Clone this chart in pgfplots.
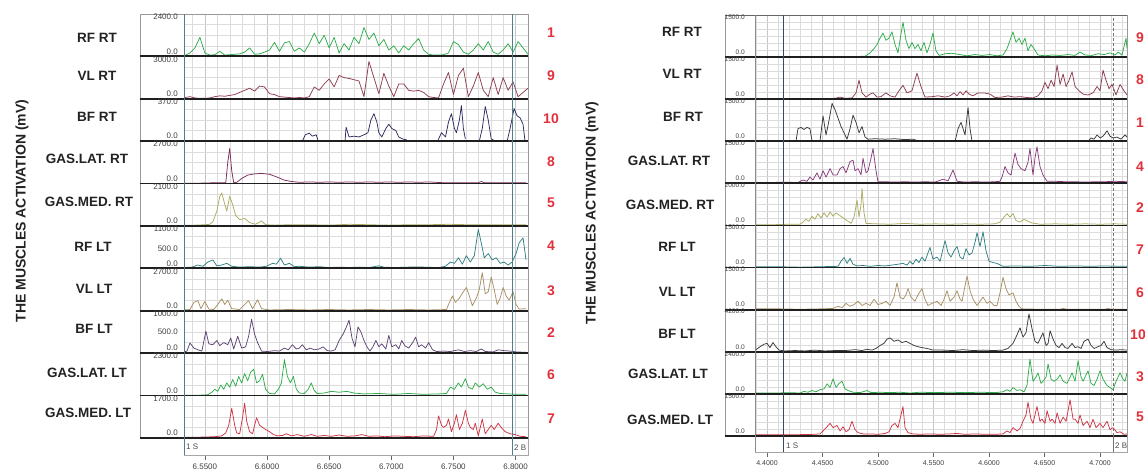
\documentclass[border=0pt]{standalone}
\usepackage{fontspec}
\setmainfont{Liberation Sans}
\usepackage{pgfplots}
\pgfplotsset{compat=1.18}

\definecolor{gridmin}{HTML}{DCDCDC}
\definecolor{gridmaj}{HTML}{C6C6C6}
\definecolor{cGreen}{HTML}{2EAD4B}
\definecolor{cMaroon}{HTML}{8E3C4E}
\definecolor{cNavy}{HTML}{2C2C5E}
\definecolor{cPlum}{HTML}{7C2C5C}
\definecolor{cOlive}{HTML}{ABAB62}
\definecolor{cTeal}{HTML}{2F7F82}
\definecolor{cTan}{HTML}{A88F62}
\definecolor{cPurple}{HTML}{5E4474}
\definecolor{cRed}{HTML}{D03444}
\definecolor{cGray}{HTML}{38383F}
\definecolor{cMag}{HTML}{8A3A7E}
\definecolor{cNum}{HTML}{E2303A}
\definecolor{cLabel}{HTML}{222222}
\definecolor{cMark}{HTML}{4F7F8C}
\definecolor{cSlate}{HTML}{3C4A5C}

\pgfplotsset{
  emg/.style={scale only axis, anchor=south west, ymin=0,
    axis line style={draw=none}, tick style={draw=none},
    major tick length=0pt, minor tick length=0pt,
    xticklabels={}, yticklabels={},
    xmajorgrids, xminorgrids, yminorgrids,
    major grid style={draw=gridmaj, line width=0.5pt},
    minor grid style={draw=gridmin, line width=0.45pt},
    unbounded coords=jump,
    every axis plot/.append style={line width=0.75pt, line join=round, mark=none}},
  lrow/.style={emg, width=344pt, height=42.4pt, xmin=6.5332, xmax=6.8100,
    xtick distance=0.05, minor xtick={6.54,6.55,...,6.81},
    ymax=#1, ytick={0,#1}, minor y tick num=3},
  rrow/.style={emg, width=372pt, height=42.1pt, xmin=4.3892, xmax=4.7243,
    xtick distance=0.05, minor xtick={4.39,4.40,...,4.72},
    ymax=#1, ytick={0,#1}, minor y tick num=5},
  strip/.style={scale only axis, anchor=south west, ymin=0, ymax=1, ytick=\empty,
    xtick distance=0.05, xtick pos=bottom, xtick align=outside,
    major tick length=5pt, tick style={draw=black!60, line width=0.5pt},
    axis line style={draw=black!35, line width=0.5pt},
    xticklabel style={font=\fontsize{8}{9}\selectfont, text=black!75},
    /pgf/number format/fixed, /pgf/number format/fixed zerofill,
    /pgf/number format/precision=4, /pgf/number format/assume math mode=true},
}

\begin{document}
\begin{tikzpicture}[x=1pt,y=1pt,
  rowlab/.style={font=\fontsize{13.5}{15}\selectfont\bfseries, text=cLabel, inner sep=0pt},
  rednum/.style={font=\fontsize{14}{16}\selectfont\bfseries, text=cNum, inner sep=0pt},
  ltick/.style={font=\fontsize{8}{9}\selectfont, text=black!75, inner sep=0pt, anchor=east},
  rtick/.style={font=\fontsize{6.6}{7}\selectfont, text=black!75, inner sep=0pt, anchor=east},
  mk/.style={font=\fontsize{8}{9}\selectfont, text=black!70, inner sep=0pt, anchor=west}]
\useasboundingbox (0,0) rectangle (1145,473);

% ================= left panel =================
\begin{axis}[lrow=2400, at={(184pt,416.6pt)}]
\addplot[cGreen] coordinates {(6.534,48)(6.538,192)(6.542,480)(6.546,1080)(6.550,192)(6.554,72)(6.558,96)(6.562,288)(6.566,72)(6.570,96)(6.574,120)(6.578,144)(6.582,240)(6.586,480)(6.590,120)(6.594,144)(6.598,240)(6.602,360)(6.606,792)(6.610,288)(6.614,768)(6.618,840)(6.622,288)(6.626,480)(6.630,240)(6.634,720)(6.638,1320)(6.642,720)(6.646,1200)(6.650,480)(6.654,1080)(6.658,192)(6.662,720)(6.666,360)(6.670,1080)(6.674,720)(6.678,1632)(6.682,960)(6.686,1320)(6.690,600)(6.694,960)(6.698,360)(6.702,600)(6.706,192)(6.710,600)(6.714,360)(6.718,720)(6.722,1008)(6.726,360)(6.730,120)(6.734,72)(6.738,72)(6.742,96)(6.746,192)(6.750,840)(6.754,672)(6.758,240)(6.762,120)(6.766,360)(6.770,720)(6.774,360)(6.778,840)(6.782,240)(6.786,120)(6.790,360)(6.794,720)(6.798,240)(6.802,840)(6.806,480)(6.810,120)};
\end{axis}
\begin{axis}[lrow=3000, at={(184pt,374.2pt)}]
\addplot[cMaroon] coordinates {(6.534,90)(6.538,150)(6.542,60)(6.546,30)(6.550,30)(6.554,60)(6.558,150)(6.562,210)(6.566,180)(6.570,240)(6.574,300)(6.578,450)(6.582,600)(6.586,750)(6.590,540)(6.594,900)(6.598,840)(6.602,360)(6.606,300)(6.610,150)(6.614,120)(6.618,90)(6.622,60)(6.626,90)(6.630,60)(6.634,150)(6.638,840)(6.642,600)(6.646,1050)(6.650,1410)(6.654,840)(6.658,1650)(6.662,1500)(6.666,1440)(6.670,1350)(6.674,1260)(6.678,150)(6.682,2640)(6.686,1500)(6.690,360)(6.694,1800)(6.698,900)(6.702,150)(6.706,1050)(6.710,1050)(6.714,600)(6.718,540)(6.722,600)(6.726,450)(6.730,150)(6.734,90)(6.738,60)(6.742,1050)(6.746,1860)(6.750,300)(6.754,1650)(6.758,2160)(6.762,150)(6.766,900)(6.770,1860)(6.774,600)(6.778,150)(6.782,1500)(6.786,300)(6.790,1500)(6.794,600)(6.798,1200)(6.802,150)(6.806,450)(6.810,750)};
\end{axis}
\begin{axis}[lrow=370, at={(184pt,331.8pt)}]
\addplot[cNavy] coordinates {(6.6284,0)(6.6308,56)(6.6340,70)(6.6364,44)(6.6396,56)(6.6412,0)(6.650,nan)(6.6628,0)(6.6636,122)(6.6660,37)(6.6700,44)(6.6740,37)(6.6780,56)(6.6812,74)(6.6836,185)(6.6860,240)(6.6884,167)(6.6900,74)(6.6924,37)(6.6956,111)(6.6980,148)(6.7004,111)(6.7036,93)(6.7060,37)(6.7092,19)(6.7124,11)(6.720,nan)(6.7372,0)(6.7404,74)(6.7436,37)(6.7460,167)(6.7484,240)(6.7508,111)(6.7524,74)(6.7548,185)(6.7564,311)(6.7580,111)(6.7596,19)(6.765,nan)(6.7708,0)(6.7732,111)(6.7756,303)(6.7780,185)(6.7804,19)(6.7828,7)(6.788,nan)(6.7932,0)(6.7956,111)(6.7988,285)(6.8012,222)(6.8036,204)(6.8060,148)(6.8076,0)};
\end{axis}
\begin{axis}[lrow=2700, at={(184pt,289.4pt)}]
\addplot[cPlum] coordinates {(6.5332,27)(6.5460,27)(6.5580,54)(6.5668,54)(6.5684,1350)(6.5700,2241)(6.5716,810)(6.5732,54)(6.5756,81)(6.5796,324)(6.5844,540)(6.5900,621)(6.5956,648)(6.6020,594)(6.6084,405)(6.6140,216)(6.6196,135)(6.6260,81)(6.6340,108)(6.6420,81)(6.6500,108)(6.6580,81)(6.6660,108)(6.6740,81)(6.6820,108)(6.6900,81)(6.6980,108)(6.7060,81)(6.7140,108)(6.7220,81)(6.7300,108)(6.7420,54)(6.7540,54)(6.7700,54)(6.7724,135)(6.7748,54)(6.7860,54)(6.7980,54)(6.8084,54)};
\end{axis}
\begin{axis}[lrow=2100, at={(184pt,247pt)}]
\addplot[cOlive] coordinates {(6.5332,42)(6.5420,42)(6.5500,63)(6.5540,84)(6.5564,210)(6.5596,735)(6.5620,1470)(6.5636,1638)(6.5652,1260)(6.5676,735)(6.5700,1470)(6.5724,1050)(6.5748,525)(6.5780,315)(6.5820,378)(6.5860,168)(6.5908,84)(6.5956,252)(6.5988,63)(6.6060,42)(6.6180,63)(6.6340,63)(6.6500,42)(6.6660,84)(6.6820,63)(6.6980,42)(6.7140,63)(6.7300,63)(6.7460,84)(6.7620,63)(6.7780,63)(6.7940,63)(6.8084,63)};
\end{axis}
\begin{axis}[lrow=1100, at={(184pt,204.6pt)}]
\addplot[cTeal] coordinates {(6.5332,22)(6.5396,33)(6.5444,88)(6.5484,55)(6.5524,165)(6.5564,220)(6.5596,66)(6.5636,88)(6.5676,132)(6.5716,55)(6.5780,33)(6.5860,44)(6.5940,33)(6.5996,55)(6.6044,132)(6.6076,110)(6.6108,264)(6.6140,88)(6.6180,132)(6.6220,44)(6.6260,55)(6.6340,33)(6.6420,44)(6.6500,22)(6.6580,33)(6.6660,22)(6.6740,33)(6.6820,22)(6.6900,66)(6.6940,33)(6.7020,22)(6.7140,33)(6.7260,33)(6.7380,22)(6.7436,55)(6.7476,165)(6.7508,132)(6.7540,275)(6.7572,110)(6.7604,330)(6.7636,165)(6.7668,330)(6.7700,1012)(6.7724,660)(6.7748,275)(6.7780,385)(6.7812,220)(6.7844,275)(6.7876,132)(6.7908,165)(6.7940,88)(6.7972,165)(6.8004,385)(6.8028,660)(6.8060,792)(6.8084,220)};
\end{axis}
\begin{axis}[lrow=2700, at={(184pt,162.2pt)}]
\addplot[cTan] coordinates {(6.5332,54)(6.5380,81)(6.5412,540)(6.5444,648)(6.5468,135)(6.5500,594)(6.5532,108)(6.5572,81)(6.5604,405)(6.5636,756)(6.5660,405)(6.5684,675)(6.5716,135)(6.5780,81)(6.5820,405)(6.5852,648)(6.5884,135)(6.5924,702)(6.5956,135)(6.6020,54)(6.6180,81)(6.6340,54)(6.6500,81)(6.6660,54)(6.6820,81)(6.6980,54)(6.7140,81)(6.7300,54)(6.7444,81)(6.7468,540)(6.7492,945)(6.7516,540)(6.7548,810)(6.7580,1215)(6.7604,1485)(6.7628,945)(6.7652,324)(6.7684,810)(6.7708,1350)(6.7732,2430)(6.7756,1080)(6.7780,1215)(6.7804,2160)(6.7828,1350)(6.7852,405)(6.7876,810)(6.7900,1485)(6.7924,945)(6.7948,675)(6.7980,1215)(6.8004,405)(6.8028,108)(6.8084,135)};
\end{axis}
\begin{axis}[lrow=1000, at={(184pt,119.8pt)}]
\addplot[cPurple] coordinates {(6.5332,30)(6.5356,50)(6.5380,240)(6.5412,120)(6.5444,80)(6.5476,50)(6.5508,520)(6.5532,220)(6.5564,200)(6.5596,300)(6.5620,180)(6.5652,250)(6.5684,200)(6.5708,360)(6.5732,100)(6.5764,400)(6.5796,120)(6.5828,150)(6.5852,400)(6.5876,800)(6.5900,450)(6.5924,250)(6.5956,50)(6.6004,40)(6.6060,60)(6.6100,50)(6.6140,120)(6.6172,80)(6.6204,200)(6.6236,100)(6.6260,120)(6.6284,200)(6.6316,80)(6.6348,120)(6.6380,80)(6.6420,100)(6.6452,150)(6.6484,60)(6.6516,50)(6.6548,80)(6.6580,300)(6.6612,450)(6.6636,600)(6.6660,780)(6.6684,350)(6.6708,150)(6.6732,620)(6.6756,500)(6.6780,300)(6.6804,150)(6.6828,50)(6.6852,150)(6.6876,300)(6.6900,150)(6.6924,220)(6.6956,100)(6.6980,420)(6.7004,150)(6.7036,200)(6.7060,100)(6.7084,300)(6.7108,180)(6.7140,120)(6.7172,250)(6.7196,380)(6.7220,150)(6.7244,200)(6.7276,120)(6.7300,250)(6.7332,80)(6.7364,40)(6.7420,50)(6.7476,40)(6.7540,80)(6.7588,40)(6.7636,60)(6.7684,40)(6.7724,100)(6.7756,40)(6.7820,30)(6.7860,80)(6.7908,60)(6.7956,50)(6.8004,30)(6.8084,20)};
\end{axis}
\begin{axis}[lrow=2300, at={(184pt,77.4pt)}]
\addplot[cGreen] coordinates {(6.5332,23)(6.5460,23)(6.5524,46)(6.5556,184)(6.5580,345)(6.5604,230)(6.5628,575)(6.5652,345)(6.5676,690)(6.5700,460)(6.5724,874)(6.5748,506)(6.5772,1035)(6.5796,690)(6.5820,1196)(6.5844,805)(6.5868,1265)(6.5892,1426)(6.5916,690)(6.5940,805)(6.5964,1150)(6.5988,345)(6.6020,115)(6.6060,92)(6.6092,345)(6.6116,690)(6.6140,1955)(6.6164,1035)(6.6188,690)(6.6212,1035)(6.6236,345)(6.6260,138)(6.6300,115)(6.6332,345)(6.6356,690)(6.6380,276)(6.6404,115)(6.6460,138)(6.6516,230)(6.6580,184)(6.6644,230)(6.6700,138)(6.6780,92)(6.6900,115)(6.7020,69)(6.7140,115)(6.7260,69)(6.7380,92)(6.7444,115)(6.7476,460)(6.7508,345)(6.7540,690)(6.7564,460)(6.7596,920)(6.7620,460)(6.7652,345)(6.7676,690)(6.7708,460)(6.7740,644)(6.7772,345)(6.7804,460)(6.7836,184)(6.7876,115)(6.7940,92)(6.8020,69)(6.8084,69)};
\end{axis}
\begin{axis}[lrow=1700, at={(184pt,35pt)}]
\addplot[cRed] coordinates {(6.5332,34)(6.5460,34)(6.5580,51)(6.5636,85)(6.5668,204)(6.5692,510)(6.5716,1190)(6.5740,510)(6.5756,204)(6.5780,170)(6.5804,850)(6.5820,1394)(6.5836,680)(6.5860,255)(6.5884,170)(6.5900,510)(6.5916,816)(6.5940,510)(6.5964,425)(6.5988,340)(6.6020,255)(6.6052,136)(6.6084,85)(6.6124,102)(6.6156,170)(6.6196,85)(6.6244,136)(6.6300,68)(6.6356,136)(6.6404,68)(6.6460,102)(6.6516,68)(6.6580,119)(6.6644,68)(6.6708,85)(6.6764,136)(6.6820,68)(6.6884,85)(6.6948,51)(6.7020,85)(6.7100,68)(6.7180,51)(6.7260,85)(6.7340,68)(6.7364,340)(6.7380,884)(6.7404,510)(6.7420,425)(6.7444,510)(6.7460,765)(6.7484,255)(6.7508,595)(6.7524,935)(6.7548,340)(6.7572,595)(6.7596,1105)(6.7620,595)(6.7636,425)(6.7660,340)(6.7676,595)(6.7700,85)(6.7716,425)(6.7732,765)(6.7756,170)(6.7780,340)(6.7804,510)(6.7828,340)(6.7860,595)(6.7884,425)(6.7916,255)(6.7956,170)(6.7996,136)(6.8036,68)(6.8084,51)};
\end{axis}
\begin{axis}[strip, width=344pt, height=17pt, at={(184pt,18pt)}, xmin=6.5332, xmax=6.8100]
\addplot[draw=none] coordinates {(6.6,0.5)};
\end{axis}

% left frame, baselines, markers
\draw[black!40, line width=0.6pt] (140,35) rectangle (528,459);
\foreach \y in {416.6,374.2,331.8,289.4,247,204.6,162.2,119.8,77.4,35}
  \draw[line width=1.8pt, draw=black!88] (140,\y) -- (528,\y);
\draw[cMark, line width=0.8pt] (184,18) -- (184,459);
\draw[cMark, line width=0.8pt] (512,18) -- (512,459);
\node[mk] at (186,26) {1 S};
\node[mk] at (514,25) {2 B};
\foreach \y/\t in {456/2400.0, 421.6/0.0, 413.6/3000.0, 379.2/0.0, 371.2/370.0, 336.8/0.0, 328.8/2700.0, 294.4/0.0, 286.4/2100.0, 252/0.0, 244/1100.0, 223.9/500.0, 209.6/0.0, 201.6/2700.0, 167.2/0.0, 159.2/1000.0, 141/500.0, 124.8/0.0, 116.8/2300.0, 82.4/0.0, 74.4/1700.0, 40/0.0}
  \node[ltick] at (178,\y) {\t};
\foreach \x/\y/\t in {97/435/RF RT, 97/397/VL RT, 97/356/BF RT, 87/314/GAS.LAT. RT, 89/271/GAS.MED. RT, 93/226/RF LT, 94/184/VL LT, 94/144/BF LT, 87/100/GAS.LAT. LT, 88/60/GAS.MED. LT}
  \node[rowlab] at (\x,\y) {\t};
\foreach \y/\t in {440/1, 397/9, 354/10, 311/8, 270/5, 227/4, 182/3, 140/2, 98/6, 54/7}
  \node[rednum] at (551,\y) {\t};
\node[rotate=90, font=\fontsize{14}{16}\selectfont\bfseries, text=cLabel] at (22,262) {THE MUSCLES ACTIVATION (mV)};

% ================= right panel =================
\begin{axis}[rrow=1500, at={(755pt,415.9pt)}]
\addplot[cGreen] coordinates {(4.3901,15)(4.4297,15)(4.4748,15)(4.4883,30)(4.4928,150)(4.4964,300)(4.4991,450)(4.5018,675)(4.5045,855)(4.5072,600)(4.5099,675)(4.5126,900)(4.5153,450)(4.5180,150)(4.5198,600)(4.5225,1245)(4.5252,600)(4.5279,300)(4.5306,525)(4.5333,300)(4.5360,450)(4.5387,225)(4.5414,525)(4.5441,150)(4.5468,450)(4.5495,855)(4.5522,225)(4.5549,60)(4.5604,120)(4.5667,135)(4.5739,90)(4.5802,45)(4.5874,90)(4.5937,60)(4.6009,90)(4.6072,45)(4.6126,75)(4.6162,300)(4.6189,600)(4.6216,900)(4.6243,525)(4.6270,675)(4.6297,450)(4.6324,675)(4.6351,225)(4.6378,450)(4.6405,300)(4.6441,75)(4.6504,45)(4.6567,75)(4.6639,60)(4.6712,90)(4.6775,60)(4.6820,180)(4.6865,75)(4.6928,60)(4.6982,120)(4.7036,90)(4.7090,150)(4.7135,75)(4.7162,180)(4.7198,75)(4.7234,675)(4.7243,300)};
\end{axis}
\begin{axis}[rrow=1500, at={(755pt,373.8pt)}]
\addplot[cMaroon] coordinates {(4.3901,15)(4.4297,15)(4.4613,30)(4.4658,75)(4.4703,30)(4.4766,45)(4.4802,225)(4.4829,675)(4.4856,225)(4.4892,75)(4.4928,180)(4.4955,225)(4.4991,75)(4.5027,90)(4.5072,225)(4.5108,120)(4.5153,75)(4.5189,300)(4.5225,495)(4.5261,225)(4.5306,300)(4.5351,930)(4.5387,450)(4.5423,75)(4.5486,90)(4.5541,120)(4.5604,75)(4.5649,120)(4.5685,225)(4.5712,120)(4.5739,270)(4.5766,150)(4.5793,300)(4.5820,180)(4.5856,120)(4.5901,225)(4.5955,225)(4.6009,180)(4.6054,60)(4.6117,75)(4.6171,120)(4.6225,75)(4.6279,90)(4.6342,60)(4.6396,45)(4.6441,120)(4.6477,300)(4.6504,600)(4.6532,375)(4.6559,675)(4.6586,450)(4.6613,1215)(4.6640,525)(4.6667,900)(4.6694,450)(4.6721,675)(4.6748,975)(4.6775,450)(4.6811,300)(4.6847,180)(4.6892,150)(4.6937,225)(4.6973,450)(4.7000,300)(4.7027,1035)(4.7054,675)(4.7081,375)(4.7108,525)(4.7144,150)(4.7180,525)(4.7216,300)(4.7243,150)};
\end{axis}
\begin{axis}[rrow=1500, at={(755pt,331.7pt)}]
\addplot[cGray] coordinates {(4.4261,0)(4.4279,450)(4.4306,495)(4.4333,420)(4.4360,495)(4.4387,450)(4.4405,30)(4.444,nan)(4.4477,0)(4.4505,900)(4.4532,225)(4.4559,750)(4.4586,1350)(4.4613,1125)(4.4640,825)(4.4667,525)(4.4694,300)(4.4721,75)(4.4748,450)(4.4775,930)(4.4802,675)(4.4829,300)(4.4856,525)(4.4883,150)(4.4910,75)(4.4973,90)(4.5063,75)(4.5153,90)(4.5243,60)(4.5315,75)(4.5351,30)(4.55,nan)(4.5694,0)(4.5721,450)(4.5748,675)(4.5766,450)(4.5784,225)(4.5802,900)(4.5811,1200)(4.5829,450)(4.5847,0)(4.63,nan)(4.6892,0)(4.6919,120)(4.6946,75)(4.6973,225)(4.7000,120)(4.7027,180)(4.7063,375)(4.7090,180)(4.7117,120)(4.7153,150)(4.7189,75)(4.7225,225)(4.7243,150)};
\end{axis}
\begin{axis}[rrow=1500, at={(755pt,289.6pt)}]
\addplot[cMag] coordinates {(4.3901,30)(4.4027,30)(4.4162,45)(4.4279,30)(4.4324,120)(4.4360,75)(4.4387,225)(4.4414,120)(4.4450,375)(4.4477,150)(4.4505,450)(4.4532,225)(4.4568,525)(4.4595,300)(4.4631,300)(4.4658,525)(4.4685,600)(4.4712,375)(4.4748,780)(4.4775,825)(4.4793,450)(4.4820,525)(4.4847,300)(4.4865,900)(4.4892,375)(4.4910,450)(4.4937,900)(4.4955,1245)(4.4982,450)(4.5000,60)(4.5063,60)(4.5153,45)(4.5243,60)(4.5333,45)(4.5423,60)(4.5514,45)(4.5586,150)(4.5631,90)(4.5676,480)(4.5712,75)(4.5784,45)(4.5874,60)(4.5964,45)(4.6054,60)(4.6099,75)(4.6117,225)(4.6144,600)(4.6171,375)(4.6198,300)(4.6234,1080)(4.6261,675)(4.6288,525)(4.6324,450)(4.6351,750)(4.6369,1245)(4.6396,300)(4.6414,900)(4.6432,1305)(4.6459,600)(4.6486,300)(4.6523,75)(4.6595,75)(4.6685,60)(4.6775,60)(4.6865,45)(4.6955,60)(4.7045,60)(4.7135,75)(4.7243,60)};
\end{axis}
\begin{axis}[rrow=2000, at={(755pt,247.5pt)}]
\addplot[cOlive] coordinates {(4.3901,40)(4.4072,40)(4.4207,60)(4.4297,60)(4.4324,160)(4.4351,300)(4.4378,200)(4.4405,440)(4.4432,300)(4.4459,560)(4.4486,360)(4.4514,600)(4.4541,400)(4.4568,640)(4.4595,440)(4.4622,600)(4.4649,500)(4.4676,400)(4.4703,300)(4.4730,200)(4.4757,100)(4.4784,400)(4.4811,1200)(4.4829,400)(4.4847,1000)(4.4856,1760)(4.4874,600)(4.4892,100)(4.4973,80)(4.5108,60)(4.5243,100)(4.5378,60)(4.5514,80)(4.5649,60)(4.5784,80)(4.5919,60)(4.6054,80)(4.6099,160)(4.6135,400)(4.6162,560)(4.6189,400)(4.6216,560)(4.6243,240)(4.6279,160)(4.6315,300)(4.6351,200)(4.6387,120)(4.6459,60)(4.6595,80)(4.6730,60)(4.6865,80)(4.7000,60)(4.7135,80)(4.7243,60)};
\end{axis}
\begin{axis}[rrow=1500, at={(755pt,205.4pt)}]
\addplot[cTeal] coordinates {(4.3901,30)(4.4117,30)(4.4297,15)(4.4477,30)(4.4640,45)(4.4667,225)(4.4694,360)(4.4721,150)(4.4748,330)(4.4775,120)(4.4811,60)(4.4865,75)(4.4928,45)(4.5000,75)(4.5063,60)(4.5126,90)(4.5180,120)(4.5225,150)(4.5261,90)(4.5288,225)(4.5315,120)(4.5342,300)(4.5369,180)(4.5396,375)(4.5423,225)(4.5450,525)(4.5468,720)(4.5495,300)(4.5532,375)(4.5559,225)(4.5586,675)(4.5604,960)(4.5631,525)(4.5658,375)(4.5685,600)(4.5712,750)(4.5739,375)(4.5766,300)(4.5793,675)(4.5820,450)(4.5847,525)(4.5874,900)(4.5892,1245)(4.5919,750)(4.5946,1275)(4.5973,600)(4.6000,225)(4.6036,180)(4.6072,150)(4.6126,45)(4.6234,60)(4.6369,45)(4.6504,75)(4.6640,45)(4.6775,60)(4.6910,45)(4.7045,60)(4.7135,45)(4.7243,45)};
\end{axis}
\begin{axis}[rrow=1500, at={(755pt,163.3pt)}]
\addplot[cTan] coordinates {(4.3901,30)(4.4117,30)(4.4297,15)(4.4477,30)(4.4595,45)(4.4640,120)(4.4676,75)(4.4712,225)(4.4748,120)(4.4784,180)(4.4820,300)(4.4856,150)(4.4892,225)(4.4928,150)(4.4964,375)(4.5000,180)(4.5036,225)(4.5072,300)(4.5108,150)(4.5144,450)(4.5171,960)(4.5198,450)(4.5225,375)(4.5252,525)(4.5270,750)(4.5297,450)(4.5333,300)(4.5360,525)(4.5396,750)(4.5423,375)(4.5450,150)(4.5486,225)(4.5532,300)(4.5568,150)(4.5595,375)(4.5622,675)(4.5649,300)(4.5685,450)(4.5712,675)(4.5739,375)(4.5757,300)(4.5775,675)(4.5802,1200)(4.5829,675)(4.5856,375)(4.5892,150)(4.5919,300)(4.5946,450)(4.5982,225)(4.6009,300)(4.6045,150)(4.6072,150)(4.6099,600)(4.6126,1155)(4.6153,750)(4.6180,525)(4.6216,600)(4.6243,300)(4.6270,120)(4.6297,30)(4.6459,15)(4.6640,15)(4.6667,45)(4.6703,15)(4.6910,15)(4.7045,15)(4.7072,45)(4.7099,15)(4.7243,15)};
\end{axis}
\begin{axis}[rrow=4200, at={(755pt,121.2pt)}]
\addplot[cGray] coordinates {(4.3901,210)(4.3937,504)(4.3973,756)(4.4000,840)(4.4027,420)(4.4054,924)(4.4081,504)(4.4108,168)(4.4162,84)(4.4252,126)(4.4342,84)(4.4432,168)(4.4523,84)(4.4613,126)(4.4703,126)(4.4793,210)(4.4856,126)(4.4901,252)(4.4946,168)(4.4982,336)(4.5018,630)(4.5054,840)(4.5081,1260)(4.5108,1386)(4.5144,1050)(4.5180,1176)(4.5216,924)(4.5252,1050)(4.5288,840)(4.5324,630)(4.5360,504)(4.5396,420)(4.5441,336)(4.5495,168)(4.5586,168)(4.5676,126)(4.5766,210)(4.5856,126)(4.5946,168)(4.6036,126)(4.6126,168)(4.6171,336)(4.6216,840)(4.6252,1680)(4.6279,2394)(4.6306,1470)(4.6333,1890)(4.6360,3780)(4.6387,2310)(4.6414,1050)(4.6441,840)(4.6468,1470)(4.6486,1890)(4.6514,630)(4.6532,840)(4.6550,2100)(4.6577,1260)(4.6604,630)(4.6631,420)(4.6658,840)(4.6685,420)(4.6712,336)(4.6748,840)(4.6775,420)(4.6802,504)(4.6829,336)(4.6856,1050)(4.6892,1260)(4.6919,630)(4.6946,336)(4.6982,504)(4.7009,630)(4.7036,1050)(4.7063,420)(4.7099,210)(4.7144,168)(4.7189,210)(4.7243,168)};
\end{axis}
\begin{axis}[rrow=2400, at={(755pt,79.1pt)}]
\addplot[cGreen] coordinates {(4.3901,48)(4.4072,48)(4.4207,72)(4.4297,48)(4.4333,144)(4.4369,96)(4.4405,192)(4.4441,120)(4.4477,240)(4.4514,288)(4.4541,576)(4.4568,360)(4.4595,864)(4.4622,360)(4.4649,600)(4.4676,720)(4.4703,288)(4.4730,192)(4.4775,96)(4.4838,72)(4.4901,192)(4.4937,72)(4.5018,96)(4.5108,72)(4.5198,96)(4.5288,48)(4.5378,96)(4.5514,72)(4.5649,96)(4.5784,72)(4.5919,96)(4.6054,72)(4.6126,120)(4.6162,240)(4.6189,144)(4.6216,360)(4.6252,192)(4.6279,240)(4.6315,120)(4.6342,480)(4.6369,1992)(4.6396,720)(4.6423,960)(4.6441,1200)(4.6468,600)(4.6486,720)(4.6514,960)(4.6532,1704)(4.6559,840)(4.6586,720)(4.6613,840)(4.6640,1080)(4.6667,720)(4.6703,600)(4.6730,960)(4.6748,1200)(4.6775,720)(4.6802,1896)(4.6829,960)(4.6847,720)(4.6874,1080)(4.6892,1320)(4.6919,600)(4.6946,480)(4.6973,840)(4.7000,1320)(4.7027,840)(4.7063,480)(4.7090,360)(4.7117,240)(4.7144,720)(4.7180,1200)(4.7207,840)(4.7225,720)(4.7243,1200)};
\end{axis}
\begin{axis}[rrow=1500, at={(755pt,37pt)}]
\addplot[cRed] coordinates {(4.3901,45)(4.4072,45)(4.4252,45)(4.4432,60)(4.4477,75)(4.4505,180)(4.4541,330)(4.4568,450)(4.4595,300)(4.4631,375)(4.4658,180)(4.4685,330)(4.4712,150)(4.4739,225)(4.4766,525)(4.4793,225)(4.4820,120)(4.4865,75)(4.4928,75)(4.5000,60)(4.5063,90)(4.5099,150)(4.5126,375)(4.5153,450)(4.5180,300)(4.5207,750)(4.5225,1050)(4.5243,300)(4.5270,120)(4.5315,75)(4.5378,60)(4.5468,75)(4.5559,60)(4.5649,75)(4.5712,90)(4.5784,60)(4.5874,75)(4.5964,60)(4.6054,60)(4.6126,75)(4.6162,180)(4.6189,120)(4.6216,300)(4.6252,180)(4.6279,270)(4.6306,525)(4.6333,750)(4.6351,1200)(4.6378,600)(4.6396,450)(4.6414,750)(4.6432,1050)(4.6459,525)(4.6477,600)(4.6504,450)(4.6523,900)(4.6550,525)(4.6568,600)(4.6595,450)(4.6613,825)(4.6640,450)(4.6667,675)(4.6694,525)(4.6712,900)(4.6730,1290)(4.6757,600)(4.6775,600)(4.6802,450)(4.6820,750)(4.6847,375)(4.6883,525)(4.6910,300)(4.6937,600)(4.6964,300)(4.7000,450)(4.7027,300)(4.7063,525)(4.7090,225)(4.7117,300)(4.7153,120)(4.7180,150)(4.7216,60)(4.7243,75)};
\end{axis}
\begin{axis}[strip, width=372pt, height=16pt, at={(755pt,21pt)}, xmin=4.3892, xmax=4.7243,
  xticklabel style={font=\fontsize{7}{8}\selectfont}]
\addplot[draw=none] coordinates {(4.5,0.5)};
\end{axis}

% right frame, baselines, markers
\draw[black!40, line width=0.6pt] (725,37) rectangle (1127,458);
\draw[black!60, line width=0.8pt] (725,458) -- (1127,458);
\foreach \y in {415.9,373.8,331.7,289.6,247.5,205.4,163.3,121.2,79.1,37}
  \draw[line width=1.8pt, draw=black!88] (725,\y) -- (1127,\y);
\draw[black!45, line width=0.6pt] (755,21) -- (755,458);
\draw[cSlate, line width=0.8pt] (783,21) -- (783,458);
\draw[black!55, line width=0.6pt, dash pattern=on 3pt off 2pt] (1113,37) -- (1113,458);
\draw[black!55, line width=0.6pt] (1113,21) -- (1113,37);
\node[mk] at (786,27) {1 S};
\node[mk] at (1115,27) {2 B};
\foreach \y/\t in {456/1500.0, 420.9/0.0, 413.9/1500.0, 378.8/0.0, 371.8/1500.0, 336.7/0.0, 329.7/1500.0, 294.6/0.0, 287.6/2000.0, 252.5/0.0, 245.5/1500.0, 210.4/0.0, 203.4/1500.0, 168.3/0.0, 161.3/4200.0, 126.2/0.0, 119.2/2400.0, 84.1/0.0, 77.1/1500.0, 42/0.0}
  \node[rtick] at (745,\y) {\t};
\foreach \x/\y/\t in {682/441/RF RT, 682/399/VL RT, 683/356/BF RT, 669/312/GAS.LAT. RT, 670/268/GAS.MED. RT, 677/226/RF LT, 677/181/VL LT, 677/139/BF LT, 668/99/GAS.LAT. LT, 670/53/GAS.MED. LT}
  \node[rowlab] at (\x,\y) {\t};
\foreach \x/\y/\t in {1136/435/9, 1136/393/8, 1136/350/1, 1136/306/4, 1136/265/2, 1136/223/7, 1136/180/6, 1130/138/10, 1136/96/3, 1136/56/5}
  \node[rednum, anchor=west] at (\x,\y) {\t};
\node[rotate=90, font=\fontsize{14}{16}\selectfont\bfseries, text=cLabel] at (592,260) {THE MUSCLES ACTIVATION (mV)};
\end{tikzpicture}
\end{document}
